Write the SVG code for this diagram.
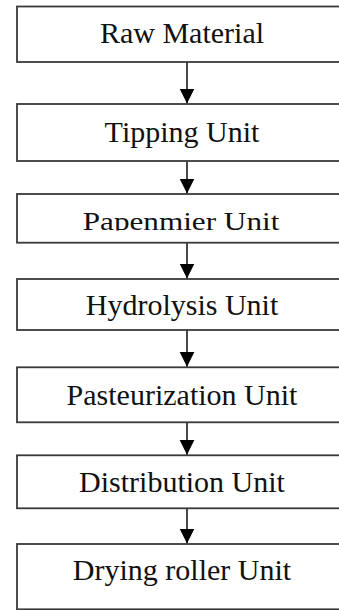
<svg xmlns="http://www.w3.org/2000/svg" width="339" height="610" viewBox="0 0 339 610">
  <style>
    .box { fill: #ffffff; stroke: #3a3a3a; stroke-width: 1.8; }
    .lbl { font-family: "Liberation Serif", "Times New Roman", serif; font-size: 30px; fill: #111111; text-anchor: middle; }
    .con { stroke: #1a1a1a; stroke-width: 1.6; fill: none; marker-end: url(#arr); }
  </style>
  <defs>
    <marker id="arr" markerUnits="userSpaceOnUse" markerWidth="16" markerHeight="16" refX="15" refY="7.5" orient="auto" viewBox="0 0 16 16">
      <path d="M0,0 L15,7.5 L0,15 Z" fill="#000000"/>
    </marker>
    <clipPath id="clip3">
      <rect x="0" y="190" width="339" height="40.6"/>
    </clipPath>
  </defs>
  <rect width="339" height="610" fill="#ffffff"/>

  <g id="connectors">
    <line class="con" x1="187" y1="62" x2="187" y2="103.5"/>
    <line class="con" x1="187" y1="161" x2="187" y2="193.5"/>
    <line class="con" x1="187" y1="242.7" x2="187" y2="278.5"/>
    <line class="con" x1="187" y1="330" x2="187" y2="366.8"/>
    <line class="con" x1="187" y1="422.3" x2="187" y2="454.8"/>
    <line class="con" x1="187" y1="508.3" x2="187" y2="543.5"/>
  </g>

  <g id="raw-material">
    <rect class="box" x="17" y="6.5" width="340" height="55.5"/>
    <text class="lbl" x="182" y="43">Raw Material</text>
  </g>
  <g id="tipping-unit">
    <rect class="box" x="17" y="104" width="340" height="57"/>
    <text class="lbl" x="182" y="142">Tipping Unit</text>
  </g>
  <g id="papenmier-unit">
    <rect class="box" x="17" y="194" width="340" height="48.7"/>
    <g clip-path="url(#clip3)">
      <text class="lbl" transform="translate(181 229.7) scale(1.04 0.82)" x="0" y="0">Papenmier Unit</text>
    </g>
  </g>
  <g id="hydrolysis-unit">
    <rect class="box" x="17" y="279" width="340" height="51"/>
    <text class="lbl" x="182" y="315">Hydrolysis Unit</text>
  </g>
  <g id="pasteurization-unit">
    <rect class="box" x="17" y="367.3" width="340" height="55"/>
    <text class="lbl" x="182" y="405">Pasteurization Unit</text>
  </g>
  <g id="distribution-unit">
    <rect class="box" x="17" y="455.3" width="340" height="53"/>
    <text class="lbl" x="182" y="491.7">Distribution Unit</text>
  </g>
  <g id="drying-roller-unit">
    <rect class="box" x="17" y="544" width="340" height="65.3"/>
    <text class="lbl" x="182" y="580">Drying roller Unit</text>
  </g>
</svg>
